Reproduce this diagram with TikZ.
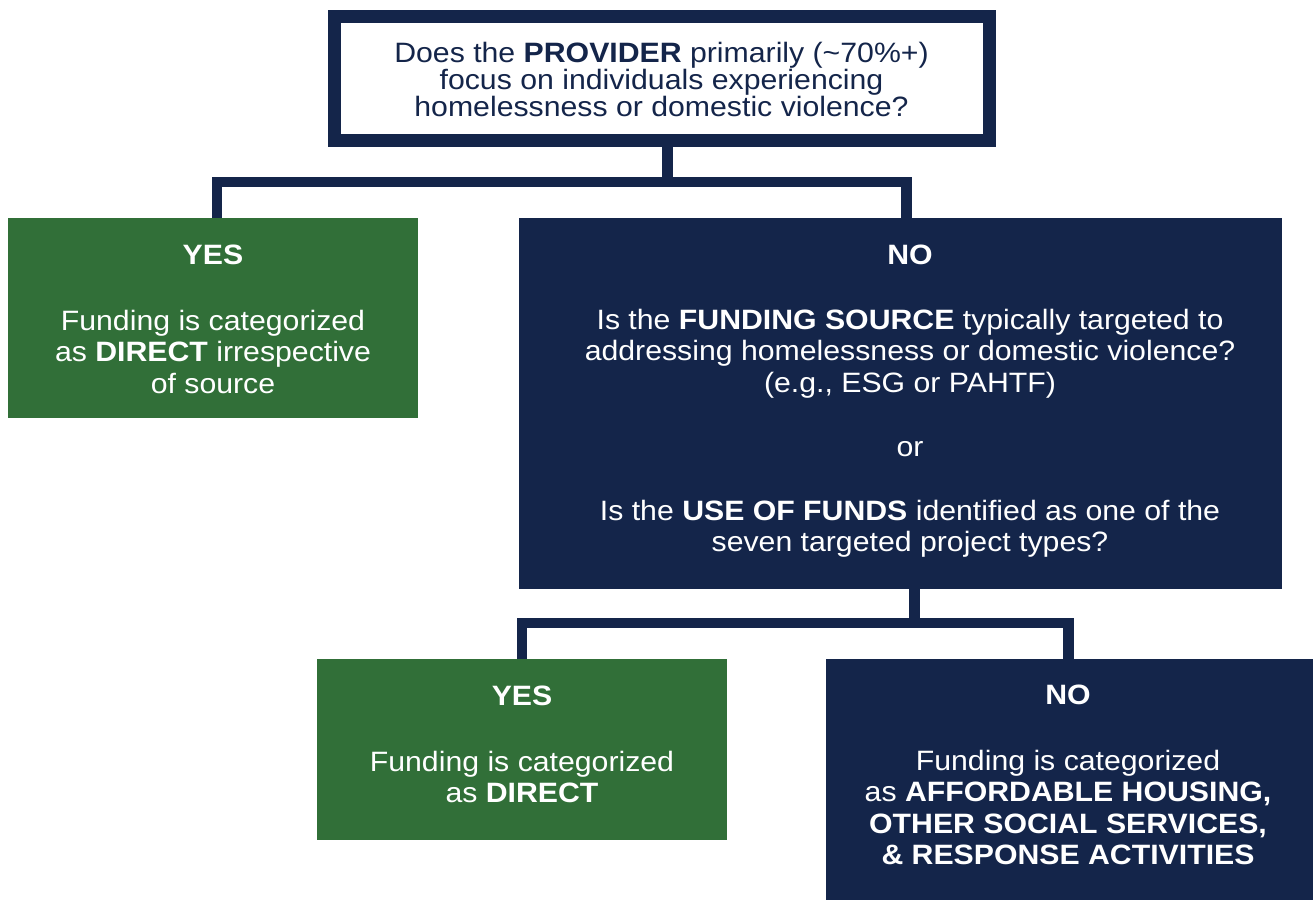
\documentclass[tikz,border=0pt]{standalone}
\usepackage{fontspec}
\setmainfont{Liberation Sans}[FakeStretch=1.08]
\definecolor{navy}{HTML}{14254A}
\definecolor{leaf}{HTML}{316F38}
\begin{document}
\setlength{\lineskiplimit}{-40pt}%
\begin{tikzpicture}[x=1pt,y=-1pt,
  box/.style={rectangle,inner sep=0pt,outer sep=0pt,draw=none},
  txt/.style={inner sep=0pt,outer sep=0pt,align=center,anchor=north,text=white,
    font=\fontsize{28}{31.5}\selectfont},
  conn/.style={draw=navy,line width=10.5pt,line join=miter,line cap=butt}]
\useasboundingbox (0,0) rectangle (1313,900);
\fill[white] (0,0) rectangle (1313,900);
% boxes
\node[box,draw=navy,fill=white,line width=13pt,minimum width=655pt,minimum height=124pt] (q1) at (662,78.5) {};
\node[box,fill=leaf,minimum width=410pt,minimum height=200pt] (yes1) at (213,318) {};
\node[box,fill=navy,minimum width=763pt,minimum height=371pt] (no1) at (900.5,403.5) {};
\node[box,fill=leaf,minimum width=410pt,minimum height=181pt] (yes2) at (522,749.5) {};
\node[box,fill=navy,minimum width=487pt,minimum height=241pt] (no2) at (1069.5,779.5) {};
% texts
\node[txt,text=navy,font=\fontsize{28}{27}\selectfont] (t1) at (661.5,42)
  {Does the \textbf{PROVIDER} primarily (\textasciitilde70\%+)\\focus on individuals experiencing\\homelessness or domestic violence?};
\node[txt] (t2) at (213,245) {\textbf{YES}\\[34pt]Funding is categorized\\as \textbf{DIRECT} irrespective\\of source};
\node[txt] (t3) at (910,245) {\textbf{NO}\\[33pt]Is the \textbf{FUNDING SOURCE} typically targeted to\\addressing homelessness or domestic violence?\\(e.g., ESG or PAHTF)\\[33pt]or\\[32pt]Is the \textbf{USE OF FUNDS} identified as one of the\\seven targeted project types?};
\node[txt] (t4) at (522,686) {\textbf{YES}\\[34pt]Funding is categorized\\as \textbf{DIRECT}};
\node[txt] (t5) at (1068,685) {\textbf{NO}\\[34pt]Funding is categorized\\as \textbf{AFFORDABLE HOUSING,}\\\textbf{OTHER SOCIAL SERVICES,}\\\textbf{\& RESPONSE ACTIVITIES}};
% connectors
\coordinate (j1) at (667.5,182);
\coordinate (j2) at (914.5,623);
\draw[conn] (q1.south -| j1) -- (j1);
\draw[conn] (yes1.north -| 217,0) |- (j1) -| (no1.north -| 906.5,0);
\draw[conn] (no1.south -| j2) -- (j2);
\draw[conn] (yes2.north -| 522,0) |- (j2) -| (no2.north -| 1068.5,0);
\end{tikzpicture}
\end{document}
